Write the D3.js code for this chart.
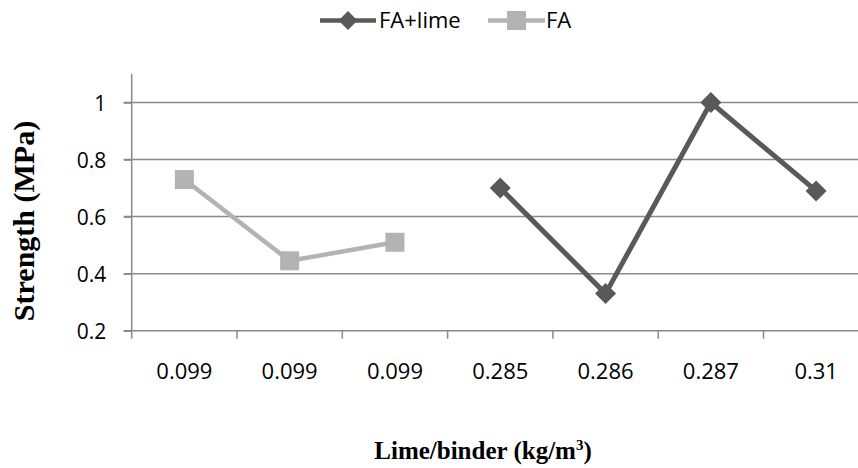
<!DOCTYPE html>
<html><head><meta charset="utf-8">
<script src="https://cdn.jsdelivr.net/npm/d3@7"></script>
<style>body{margin:0;background:#fff}</style>
</head><body>
<svg id="c" width="858" height="468"></svg>
<script>
const categories = ["0.099","0.099","0.099","0.285","0.286","0.287","0.31"];
const faLime = [null,null,null,0.70,0.33,1.00,0.69];
const fa = [0.73,0.445,0.51,null,null,null,null];
const yTicks = [0.2,0.4,0.6,0.8,1.0];
const seriesNames = ["FA+lime","FA"];

(function(){
const svg = d3.select("#c");
const left = 131.7, bw = 105.3, plotTop = 74, bottom = 330.7;
const x = d3.scaleBand().domain(d3.range(categories.length)).range([left, left + bw*categories.length]).padding(0);
const y = d3.scaleLinear().domain([0.2,1.1]).range([bottom, plotTop]);
const tickFont = "'Open Sans', 'Noto Sans', sans-serif";
const axisCol = "#898989";
const darkCol = "#595959", lightCol = "#b3b3b3";

// gridlines
svg.append("g").selectAll("line").data(yTicks.slice(1)).join("line")
  .attr("x1", left - 8).attr("x2", 858).attr("y1", d=>y(d)).attr("y2", d=>y(d))
  .attr("stroke", axisCol).attr("stroke-width", 1.5);

// y axis
const ya = svg.append("g").attr("transform", `translate(${left},0)`)
  .call(d3.axisLeft(y).tickValues(yTicks).tickSize(8).tickFormat(d=>d===1?"1":d3.format(".1f")(d)));
ya.attr("font-size", null).attr("font-family", null);
ya.select(".domain").attr("stroke",axisCol).attr("stroke-width",1.5).attr("d",`M0,${plotTop}V${bottom}`);
ya.selectAll(".tick line").attr("stroke",axisCol).attr("stroke-width",1.5);
ya.selectAll(".tick text").style("font-family",tickFont).style("font-size","21px").attr("fill","#000")
  .attr("x",-25.5).attr("dy","0.36em");

// x axis
const xa = svg.append("g").attr("transform", `translate(0,${bottom})`)
  .call(d3.axisBottom(x).tickFormat(i=>categories[i]).tickSize(0));
xa.attr("font-size", null).attr("font-family", null);
xa.select(".domain").attr("stroke",axisCol).attr("stroke-width",1.5).attr("d",`M${left-8},0H858`);
xa.selectAll(".tick text").style("font-family",tickFont).style("font-size","22px").attr("fill","#000")
  .attr("dy","0").attr("y",48);
xa.selectAll(".tick line").remove();
svg.append("g").selectAll("line").data(d3.range(categories.length+1)).join("line")
  .attr("x1", i=>left + bw*i).attr("x2", i=>left + bw*i)
  .attr("y1", bottom).attr("y2", bottom+8).attr("stroke",axisCol).attr("stroke-width",1.5);

const cx = i => x(i) + x.bandwidth()/2;
const line = d3.line().defined(d=>d.v!=null).x(d=>cx(d.i)).y(d=>y(d.v));

// FA series
const faData = fa.map((v,i)=>({v,i}));
svg.append("path").datum(faData).attr("d", line).attr("fill","none")
  .attr("stroke",lightCol).attr("stroke-width",4.5).attr("stroke-linejoin","round");
svg.append("g").selectAll("rect").data(faData.filter(d=>d.v!=null)).join("rect")
  .attr("x", d=>cx(d.i)-9.5).attr("y", d=>y(d.v)-9.5).attr("width",19).attr("height",19).attr("fill",lightCol);

// FA+lime series
const flData = faLime.map((v,i)=>({v,i}));
svg.append("path").datum(flData).attr("d", line).attr("fill","none")
  .attr("stroke",darkCol).attr("stroke-width",5).attr("stroke-linejoin","round");
svg.append("g").selectAll("path").data(flData.filter(d=>d.v!=null)).join("path")
  .attr("d", d=>`M${cx(d.i)},${y(d.v)-10.5}L${cx(d.i)+10.5},${y(d.v)}L${cx(d.i)},${y(d.v)+10.5}L${cx(d.i)-10.5},${y(d.v)}Z`)
  .attr("fill",darkCol);

// legend
const lg = svg.append("g");
lg.append("line").attr("x1",320).attr("x2",376).attr("y1",20.5).attr("y2",20.5).attr("stroke",darkCol).attr("stroke-width",4.5);
lg.append("path").attr("d","M348,11L357.5,20.5L348,30L338.5,20.5Z").attr("fill",darkCol);
lg.append("text").attr("x",379).attr("y",28).text(seriesNames[0]).style("font-family",tickFont).style("font-size","22px");
lg.append("line").attr("x1",488).attr("x2",545).attr("y1",20.5).attr("y2",20.5).attr("stroke",lightCol).attr("stroke-width",4.5);
lg.append("rect").attr("x",507).attr("y",11).attr("width",19).attr("height",19).attr("fill",lightCol);
lg.append("text").attr("x",546).attr("y",28).text(seriesNames[1]).style("font-family",tickFont).style("font-size","22px");

// axis titles
svg.append("text").attr("transform","translate(34,221) rotate(-90)").attr("text-anchor","middle")
  .style("font-family","'Liberation Serif', 'Times New Roman', serif").attr("font-weight","bold").style("font-size","30px")
  .text("Strength (MPa)");
const xt = svg.append("text").attr("x",483).attr("y",459).attr("text-anchor","middle")
  .style("font-family","'Liberation Serif', 'Times New Roman', serif").attr("font-weight","bold").style("font-size","25px");
xt.append("tspan").text("Lime/binder (kg/m");
xt.append("tspan").text("3").style("font-size","15px").attr("dy",-9);
xt.append("tspan").text(")").attr("dy",9);
})();
</script>
</body></html>
